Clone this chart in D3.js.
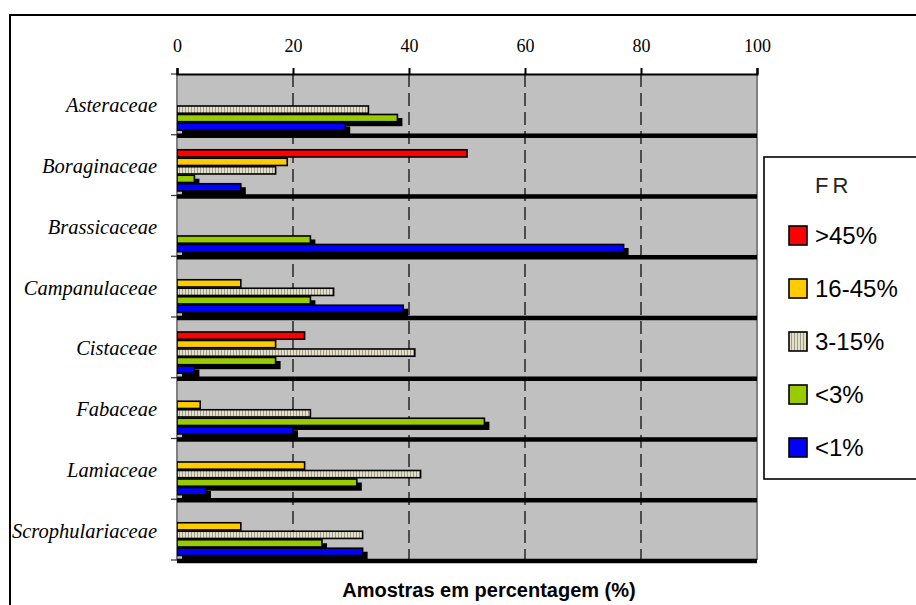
<!DOCTYPE html>
<html>
<head>
<meta charset="utf-8">
<script src="https://cdn.jsdelivr.net/npm/d3@7"></script>
<style>
  html, body { margin: 0; padding: 0; background: #ffffff; }
  svg { display: block; }
</style>
</head>
<body>
<svg id="chart" width="916" height="605"></svg>
<script>
// ---- data ----
const categories = ["Asteraceae", "Boraginaceae", "Brassicaceae", "Campanulaceae",
                    "Cistaceae", "Fabaceae", "Lamiaceae", "Scrophulariaceae"];
const seriesNames = [">45%", "16-45%", "3-15%", "<3%", "<1%"];
const valuesGt45   = [0, 50, 0, 0, 22, 0, 0, 0];
const values16to45 = [0, 19, 0, 11, 17, 4, 22, 11];
const values3to15  = [33, 17, 0, 27, 41, 23, 42, 32];
const valuesLt3    = [38, 3, 23, 23, 17, 53, 31, 25];
const valuesLt1    = [29, 11, 77, 39, 3, 20, 5, 32];
const separatorValues = [100, 100, 100, 100, 100, 100, 100, 100];
const xTicks = [0, 20, 40, 60, 80, 100];
const legendTitle = "FR";
const axisTitle = "Amostras em percentagem (%)";

const seriesValues = [valuesGt45, values16to45, values3to15, valuesLt3, valuesLt1, separatorValues];
const seriesKeys = ["gt45", "r16", "r3", "lt3", "lt1", "sep"];
const fills = ["#ff0000", "#ffcc00", "url(#stripes)", "#99cc00", "#0000ff", "#000000"];
const shadowed = [false, false, false, true, true, false];

// ---- layout ----
const svg = d3.select("#chart");
const plot = { left: 177, right: 757, top: 74, bottom: 560 };

const x = d3.scaleLinear().domain([0, 100]).range([plot.left, plot.right]);
const y = d3.scaleBand().domain(categories).range([plot.top, plot.bottom]).padding(0);
const ySub = d3.scaleBand().domain(seriesKeys).range([15, 64.7]).paddingInner(0.15).paddingOuter(0);

// pattern
const defs = svg.append("defs");
const pat = defs.append("pattern").attr("id", "stripes")
  .attr("patternUnits", "userSpaceOnUse").attr("width", 3).attr("height", 10);
pat.append("rect").attr("width", 3).attr("height", 10).attr("fill", "#e2e0c8");
pat.append("rect").attr("x", 2).attr("width", 1).attr("height", 10).attr("fill", "#a09e8a");

// outer frame
svg.append("rect").attr("x", 10).attr("y", 15).attr("width", 1000).attr("height", 700)
  .attr("fill", "#ffffff").attr("stroke", "#000").attr("stroke-width", 2);

// plot background
svg.append("rect").attr("x", plot.left).attr("y", plot.top)
  .attr("width", plot.right - plot.left).attr("height", plot.bottom - plot.top)
  .attr("fill", "#c0c0c0");

// gridlines
svg.append("g").selectAll("line").data(xTicks.filter(t => t > 0 && t < 100)).join("line")
  .attr("x1", d => x(d)).attr("x2", d => x(d))
  .attr("y1", plot.top).attr("y2", plot.bottom)
  .attr("stroke", "#000").attr("stroke-width", 1.2).attr("stroke-dasharray", "13,6");

// plot border (right/bottom/left gray)
svg.append("line").attr("x1", plot.right).attr("x2", plot.right)
  .attr("y1", plot.top).attr("y2", plot.bottom).attr("stroke", "#808080").attr("stroke-width", 2);
svg.append("line").attr("x1", plot.left).attr("x2", plot.right)
  .attr("y1", plot.bottom).attr("y2", plot.bottom).attr("stroke", "#808080").attr("stroke-width", 2);
svg.append("line").attr("x1", plot.left).attr("x2", plot.left)
  .attr("y1", plot.top).attr("y2", plot.bottom).attr("stroke", "#808080").attr("stroke-width", 2);

// bars
const clip = defs.append("clipPath").attr("id", "plotclip");
clip.append("rect").attr("x", plot.left).attr("y", plot.top - 5)
  .attr("width", plot.right - plot.left).attr("height", plot.bottom - plot.top + 10);

const barsG = svg.append("g").attr("clip-path", "url(#plotclip)");
categories.forEach((cat, ci) => {
  const g = barsG.append("g");
  seriesKeys.forEach((key, si) => {
    const v = seriesValues[si][ci];
    if (!v) return;
    let by = y(cat) + ySub(key);
    let bh = ySub.bandwidth();
    const bw = x(v) - x(0);
    if (key === "sep") {
      g.append("rect").attr("x", x(0)).attr("y", by + 2)
        .attr("width", bw).attr("height", 4.5).attr("fill", "#000");
      return;
    }
    if (shadowed[si]) {
      g.append("rect").attr("x", x(0) + 5).attr("y", by + 3.5)
        .attr("width", bw).attr("height", bh + 1).attr("fill", "#000");
    }
    g.append("rect").attr("x", x(0)).attr("y", by)
      .attr("width", bw).attr("height", bh)
      .attr("fill", fills[si]).attr("stroke", "#000").attr("stroke-width", 1.6);
  });
});

// left ticks at category boundaries
const bounds = categories.map(c => y(c)).concat([plot.bottom]);
svg.append("g").selectAll("line").data(bounds).join("line")
  .attr("x1", plot.left - 6).attr("x2", plot.left)
  .attr("y1", d => d).attr("y2", d => d)
  .attr("stroke", "#333").attr("stroke-width", 1.2);

// top axis
const axisTop = d3.axisTop(x).tickValues(xTicks).tickSize(6).tickPadding(16).tickFormat(d3.format("d"));
const ax = svg.append("g").attr("transform", `translate(0,${plot.top})`).call(axisTop);
ax.select(".domain").attr("stroke", "#000").attr("stroke-width", 2.2);
ax.selectAll(".tick line").attr("stroke", "#000").attr("stroke-width", 2);
ax.selectAll(".tick text").attr("font-family", "'Liberation Serif', 'Times New Roman', serif")
  .attr("font-size", 18).attr("fill", "#000");

// category labels
svg.append("g").selectAll("text").data(categories).join("text")
  .attr("x", 157).attr("y", d => y(d) + y.bandwidth() / 2 + 8)
  .attr("text-anchor", "end")
  .attr("font-family", "'Liberation Serif', 'Times New Roman', serif")
  .attr("font-style", "italic").attr("font-size", 20.5).attr("fill", "#000")
  .text(d => d);

// axis title
svg.append("text").attr("x", 489).attr("y", 597).attr("text-anchor", "middle")
  .attr("font-family", "'Liberation Sans', Arial, sans-serif").attr("font-weight", "bold")
  .attr("font-size", 20).attr("fill", "#000").text(axisTitle);

// legend
const lg = svg.append("g");
lg.append("rect").attr("x", 764).attr("y", 157).attr("width", 200).attr("height", 322)
  .attr("fill", "#fff").attr("stroke", "#000").attr("stroke-width", 1.6);
lg.append("text").attr("x", 815).attr("y", 193)
  .attr("font-family", "'Liberation Sans', Arial, sans-serif").attr("font-size", 22)
  .attr("letter-spacing", 4).attr("fill", "#222").text(legendTitle);
const legendY = d3.scalePoint().domain(seriesNames).range([235, 447]);
seriesNames.forEach((name, i) => {
  const cy = legendY(name);
  lg.append("rect").attr("x", 789).attr("y", cy - 9).attr("width", 18).attr("height", 19)
    .attr("fill", fills[i]).attr("stroke", "#000").attr("stroke-width", 1.6);
  lg.append("text").attr("x", 815).attr("y", cy + 8.5)
    .attr("font-family", "'Liberation Sans', Arial, sans-serif").attr("font-size", 24)
    .attr("fill", "#000").text(name);
});
</script>
</body>
</html>
